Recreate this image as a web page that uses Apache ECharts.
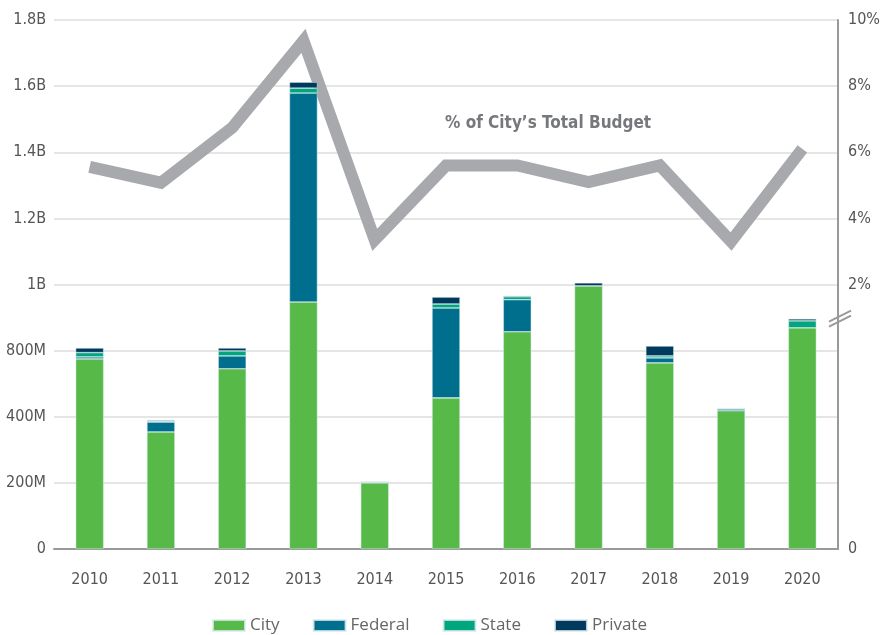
<!DOCTYPE html>
<html>
<head>
<meta charset="utf-8">
<title>Capital Spending</title>
<script src="https://cdn.jsdelivr.net/npm/echarts@6/dist/echarts.min.js"></script>
<style>
  html, body, #main { width: 890px; height: 635px; margin: 0; padding: 0; background: #fff; }
</style>
</head>
<body>
<div id="main"></div>
<script>
// data (bar values are in left-axis grid units: one step = 200)
var years = ['2010','2011','2012','2013','2014','2015','2016','2017','2018','2019','2020'];
var city    = [575, 354, 545, 747, 200, 457, 657, 796, 563, 418, 669];
var federal = [6, 30, 39, 632, 3, 272, 97, 0, 15, 6, 0];
var state   = [13, 3, 15, 15, 0, 12, 9, 0, 6, 0, 21];
var priv    = [14, 3, 9, 18, 0, 21, 3, 9, 30, 0, 6];
var pctBudget = [5.56, 5.08, 6.74, 9.37, 3.35, 5.6, 5.6, 5.1, 5.6, 3.3, 6.1];
var leftLabels = ['0','200M','400M','800M','1B','1.2B','1.4B','1.6B','1.8B'];
var rightLabels = { '-6': '0', '2': '2%', '4': '4%', '6': '6%', '8': '8%', '10': '10%' };

var cond = '"Liberation Sans Narrow", "DejaVu Sans Condensed", sans-serif';
var myChart = echarts.init(document.getElementById('main'));

function bar(name, data, color) {
    return {
        name: name, type: 'bar', stack: 'total', yAxisIndex: 0, data: data,
        barWidth: 28, z: 3,
        itemStyle: { color: color, borderColor: 'rgba(220,235,240,0.8)', borderWidth: 0.6 }
    };
}

myChart.setOption({
    animation: false,
    grid: { left: 54, right: 52, top: 20, bottom: 86, containLabel: false },
    legend: {
        top: 612, left: 207, itemWidth: 32, itemHeight: 11, itemGap: 33,
        icon: 'rect',
        data: ['City', 'Federal', 'State', 'Private'],
        textStyle: { color: '#666', fontSize: 17, fontFamily: '"Open Sans", sans-serif' }
    },
    xAxis: {
        type: 'category', data: years,
        axisLine: { lineStyle: { color: '#999', width: 2 } },
        axisTick: { show: false },
        axisLabel: { color: '#555', fontSize: 16, fontFamily: cond, margin: 23 }
    },
    yAxis: [{
        type: 'value', min: 0, max: 1600, interval: 200,
        axisLine: { show: false }, axisTick: { show: false },
        splitLine: { lineStyle: { color: '#dcdcdc', width: 1.5 } },
        axisLabel: {
            color: '#555', fontSize: 16, fontFamily: cond, margin: 8,
            formatter: function (v) { return leftLabels[Math.round(v / 200)]; }
        }
    }, {
        type: 'value', min: -6, max: 10, interval: 2, position: 'right',
        axisLine: { show: true, lineStyle: { color: '#999', width: 2 } },
        axisTick: { show: false }, splitLine: { show: false },
        axisLabel: {
            color: '#555', fontSize: 16, fontFamily: cond, margin: 10,
            formatter: function (v) { return rightLabels[String(v)] || ''; }
        }
    }],
    series: [
        {
            name: '% of City\u2019s Total Budget', type: 'line', yAxisIndex: 1, data: pctBudget,
            symbol: 'none', z: 1,
            lineStyle: { color: '#a7a9ac', width: 12, join: 'miter', miterLimit: 10 }
        },
        bar('City', city, '#57b947'),
        bar('Federal', federal, '#006f8e'),
        bar('State', state, '#00a77e'),
        bar('Private', priv, '#003a5c')
    ]
});

// axis break marks and the line label
var xr = 890 - 52;
var yb = (myChart.convertToPixel({ yAxisIndex: 1 }, 2) + myChart.convertToPixel({ yAxisIndex: 1 }, 0)) / 2;
myChart.setOption({
    graphic: [
        { type: 'line', shape: { x1: xr - 9, y1: yb + 4, x2: xr + 13, y2: yb - 7 }, style: { stroke: '#999', lineWidth: 2 } },
        { type: 'line', shape: { x1: xr - 9, y1: yb + 9, x2: xr + 13, y2: yb - 2 }, style: { stroke: '#999', lineWidth: 2 } },
        {
            type: 'text', left: 445, top: 115,
            style: { text: '% of City\u2019s Total Budget', fill: '#77787b', fontSize: 17, fontWeight: 'bold', fontFamily: cond }
        }
    ]
});
</script>
</body>
</html>
